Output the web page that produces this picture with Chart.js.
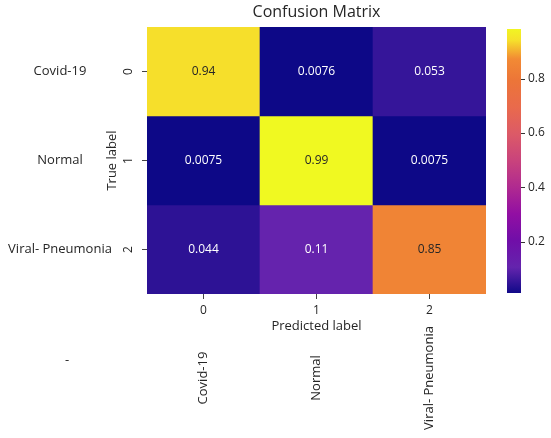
<!DOCTYPE html>
<html>
<head>
<meta charset="utf-8">
<script src="https://cdn.jsdelivr.net/npm/chart.js@4.4.0/dist/chart.umd.min.js"></script>
<style>
  body { margin: 0; background: #fff; }
</style>
</head>
<body>
<canvas id="confusion" width="551" height="438"></canvas>
<script>
// labels
var predLabels = ['0', '1', '2'];
var trueLabels = ['0', '1', '2'];
var classNames = ['Covid-19', 'Normal', 'Viral- Pneumonia'];

// one row per true label (normalized confusion matrix)
var rowCovid = [0.94, 0.0076, 0.053];
var rowNormal = [0.0075, 0.99, 0.0075];
var rowViral = [0.044, 0.11, 0.85];

var colorbarTicks = [0.2, 0.4, 0.6, 0.8];

// plasma-like colormap, tuned to how the colours look in the picture
var cmapStops = [
    [0.00, '#0d0887'],
    [0.10, '#6424ad'],
    [0.20, '#700ea8'],
    [0.30, '#920fa3'],
    [0.40, '#b02a90'],
    [0.50, '#c9437c'],
    [0.60, '#dc5a67'],
    [0.70, '#e96a4c'],
    [0.80, '#ec7538'],
    [0.88, '#f28a34'],
    [0.95, '#f6e02b'],
    [1.00, '#f0f921']
];

var rows = [rowCovid, rowNormal, rowViral];
var allValues = [].concat(rowCovid, rowNormal, rowViral);
var vmin = Math.min.apply(null, allValues);
var vmax = Math.max.apply(null, allValues);

function hexToRgb(h) {
    return [parseInt(h.substr(1, 2), 16), parseInt(h.substr(3, 2), 16), parseInt(h.substr(5, 2), 16)];
}

function norm(v) {
    return (v - vmin) / (vmax - vmin);
}

function cellColor(v) {
    var t = Math.max(0, Math.min(1, norm(v)));
    for (var i = 0; i < cmapStops.length - 1; i++) {
        var s0 = cmapStops[i], s1 = cmapStops[i + 1];
        if (t <= s1[0]) {
            var f = (t - s0[0]) / (s1[0] - s0[0]);
            var a = hexToRgb(s0[1]), b = hexToRgb(s1[1]);
            var c = [0, 1, 2].map(function (k) { return Math.round(a[k] + (b[k] - a[k]) * f); });
            return 'rgb(' + c.join(',') + ')';
        }
    }
    return cmapStops[cmapStops.length - 1][1];
}

function textColorFor(v) {
    return norm(v) > 0.5 ? '#262626' : '#ffffff';
}

Chart.defaults.font.family = "'Open Sans', sans-serif";
Chart.defaults.font.size = 12;
Chart.defaults.color = '#262626';

var heatmapExtras = {
    id: 'heatmapExtras',
    afterDatasetsDraw: function (chart) {
        var ctx = chart.ctx;
        ctx.save();
        ctx.font = "12px 'Open Sans', sans-serif";
        ctx.textAlign = 'center';
        ctx.textBaseline = 'middle';
        chart.data.datasets.forEach(function (ds, r) {
            var meta = chart.getDatasetMeta(r);
            meta.data.forEach(function (bar, c) {
                var p = bar.getProps(['x', 'y', 'base'], true);
                var v = ds.values[c];
                ctx.fillStyle = textColorFor(v);
                ctx.fillText(String(v), p.x, (p.y + p.base) / 2);
            });
        });
        ctx.restore();
    },
    afterDraw: function (chart) {
        var ctx = chart.ctx;
        var cb = chart.scales.cb;
        var xs = chart.scales.x;
        var ys = chart.scales.y;

        // colorbar
        var barLeft = cb.left + 21, barW = 14;
        var grad = ctx.createLinearGradient(0, cb.bottom, 0, cb.top);
        cmapStops.forEach(function (s) {
            grad.addColorStop(s[0], s[1]);
        });
        ctx.save();
        ctx.fillStyle = grad;
        ctx.fillRect(barLeft, cb.top + 2, barW, cb.bottom - cb.top - 3);
        ctx.strokeStyle = '#333';
        ctx.lineWidth = 1;
        cb.ticks.forEach(function (t) {
            var y = Math.round(cb.getPixelForValue(t.value)) + 0.5;
            ctx.beginPath();
            ctx.moveTo(barLeft + barW, y);
            ctx.lineTo(barLeft + barW + 4, y);
            ctx.stroke();
        });

        // class names beside and below the matrix
        ctx.fillStyle = '#262626';
        ctx.font = "13px 'Open Sans', sans-serif";
        ctx.textAlign = 'center';
        ctx.textBaseline = 'middle';
        classNames.forEach(function (name, i) {
            ctx.fillText(name, 60, ys.getPixelForValue(i));
        });
        classNames.forEach(function (name, i) {
            ctx.save();
            ctx.translate(xs.getPixelForValue(i), 378);
            ctx.rotate(-Math.PI / 2);
            ctx.fillText(name, 0, 0);
            ctx.restore();
        });
        ctx.fillText('-', 67, 360);
        ctx.restore();
    }
};

var confusionChart = new Chart(document.getElementById('confusion'), {
    type: 'bar',
    data: {
        labels: predLabels,
        datasets: rows.map(function (row, r) {
            return {
                label: trueLabels[r],
                data: row.map(function () { return [r - 0.5, r + 0.5]; }),
                values: row,
                backgroundColor: row.map(cellColor),
                borderWidth: 0,
                barPercentage: 1,
                categoryPercentage: 1,
                grouped: false
            };
        })
    },
    options: {
        responsive: false,
        animation: false,
        events: [],
        layout: {
            padding: { left: 100, bottom: 100, top: 0, right: 0 }
        },
        plugins: {
            legend: { display: false },
            tooltip: { enabled: false },
            title: {
                display: true,
                text: 'Confusion Matrix',
                fullSize: false,
                color: '#262626',
                font: { size: 16, weight: 'normal', lineHeight: '19px' },
                padding: { top: 3, bottom: 5 }
            }
        },
        scales: {
            x: {
                type: 'category',
                position: 'bottom',
                grid: { drawOnChartArea: false, offset: false, tickLength: 5, color: '#444' },
                border: { display: false },
                ticks: { padding: 4, maxRotation: 0 },
                title: { display: true, text: 'Predicted label', font: { size: 13 }, padding: { top: 4, bottom: 4 } },
                afterFit: function (s) {
                    s.height = 44;
                    s.paddingLeft = 0;
                    s.paddingRight = 0;
                }
            },
            y: {
                type: 'linear',
                position: 'left',
                reverse: true,
                min: -0.5,
                max: 2.5,
                afterBuildTicks: function (s) {
                    s.ticks = trueLabels.map(function (l, i) { return { value: i }; });
                },
                grid: { drawOnChartArea: false, tickLength: 5, color: '#444' },
                border: { display: false },
                ticks: {
                    minRotation: 90,
                    maxRotation: 90,
                    crossAlign: 'center',
                    padding: 10,
                    callback: function (v) { return trueLabels[v]; }
                },
                title: { display: true, text: 'True label', font: { size: 13 }, padding: { top: 4, bottom: 4 } },
                afterFit: function (s) {
                    s.width = 47;
                    s.paddingTop = 0;
                    s.paddingBottom = 0;
                }
            },
            cb: {
                type: 'linear',
                position: 'right',
                min: vmin,
                max: vmax,
                afterBuildTicks: function (s) {
                    s.ticks = colorbarTicks.map(function (v) { return { value: v }; });
                },
                grid: { display: false, drawTicks: false },
                border: { display: false },
                ticks: {
                    padding: 42,
                    callback: function (v) { return v.toFixed(1); }
                },
                afterFit: function (s) {
                    s.width = 65;
                    s.paddingTop = 0;
                    s.paddingBottom = 0;
                }
            }
        }
    },
    plugins: [heatmapExtras]
});
</script>
</body>
</html>
